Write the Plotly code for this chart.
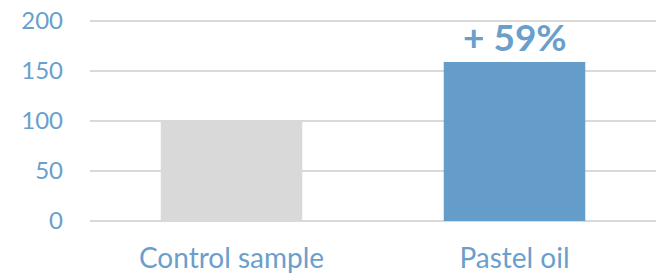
import plotly.graph_objects as go

categories = ["Control sample", "Pastel oil"]
values = [100, 159]
bar_colors = ["#D9D9D9", "#659DCA"]
y_ticks = [0, 50, 100, 150, 200]
annotation_text = "+ 59%"

text_color = "#6A9FCC"
font_family = "Lato, Open Sans, sans-serif"

fig = go.Figure(go.Bar(x=categories, y=values, marker=dict(color=bar_colors, line_width=0),
                       hoverinfo="skip"))

fig.add_annotation(x=categories[1], y=values[1], text="<b>" + annotation_text + "</b>",
                   showarrow=False, yanchor="bottom", yshift=1,
                   font=dict(family=font_family, size=37, color=text_color))

fig.update_layout(
    width=672, height=274,
    margin=dict(l=90, r=16, t=19, b=51, pad=0),
    paper_bgcolor="white", plot_bgcolor="white",
    bargap=0.5, showlegend=False,
    font=dict(family=font_family, color=text_color),
)
fig.update_xaxes(showline=False, showgrid=False, ticks="", automargin=False,
                 tickfont=dict(size=28, color=text_color), ticklabelstandoff=16)
fig.update_yaxes(range=[-2, 202], tickvals=y_ticks, showgrid=True, gridcolor="#D9D9D9",
                 gridwidth=2, zeroline=False, showline=False, ticks="", automargin=False,
                 tickfont=dict(size=24, color=text_color), ticklabelstandoff=26)

fig.write_html("out.html", config={"displayModeBar": False},
               post_script="document.body.style.margin='0';")
